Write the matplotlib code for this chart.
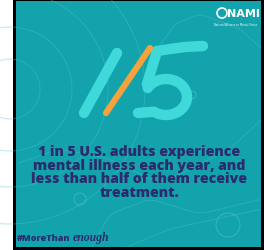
import numpy as np
import matplotlib
matplotlib.use("Agg")
import matplotlib.pyplot as plt
from matplotlib.patches import Rectangle, Circle, Arc

# ---- content ----
numerator = "1"
denominator = "5"
headline = ["1 in 5 U.S. adults experience",
            "mental illness each year, and",
            "less than half of them receive",
            "treatment."]
hashtag_bold = "#MoreThan"
hashtag_script = "enough"
logo_text = "NAMI"
logo_sub = "National Alliance on Mental Illness"

# ---- style ----
TEAL = "#12a3ad"
LINE = "#52c2c8"
CYAN = "#3fd9da"
ORANGE = "#f4a33c"
NAVY = "#2c2b6d"

W, H = 264, 251
fig = plt.figure(figsize=(W / 100, H / 100), dpi=100)
ax = fig.add_axes([0, 0, 1, 1])
ax.set_xlim(0, W)
ax.set_ylim(H, 0)
ax.axis("off")

# frame
ax.add_patch(Rectangle((13, 0), 251, 251, facecolor="black", edgecolor="none"))
ax.add_patch(Rectangle((16, 2), 245, 246, facecolor=TEAL, edgecolor="none"))
clip = Rectangle((16, 2), 245, 246, transform=ax.transData)

# decorative background lines
for r in (30, 62, 98, 135):
    a = Arc((10, 90), 2 * r, 2 * r, theta1=0, theta2=360, color=LINE, lw=0.7, alpha=0.4)
    a.set_clip_path(clip)
    ax.add_patch(a)
t = np.linspace(0, 1, 100)
paths = [
    (np.array([150, 175, 200, 240, 262]), np.array([60, 25, 15, 30, 50])),
    (np.array([16, 60, 110, 160, 230, 262]), np.array([165, 150, 160, 185, 150, 120])),
    (np.array([90, 110, 150, 200, 262]), np.array([251, 215, 200, 215, 200])),
    (np.array([120, 170, 262]), np.array([251, 230, 210])),
]
for xs, ys in paths:
    tt = np.linspace(0, 1, len(xs))
    xx = np.interp(t, tt, xs)
    yy = np.interp(t, tt, ys)
    k = np.ones(9) / 9
    xx = np.convolve(np.pad(xx, 4, mode="edge"), k, mode="valid")
    yy = np.convolve(np.pad(yy, 4, mode="edge"), k, mode="valid")
    ln, = ax.plot(xx, yy, color=LINE, lw=0.7, alpha=0.4)
    ln.set_clip_path(clip)
for (cx, cy, r) in [(80, 200, 6), (228, 226, 12), (192, 96, 4)]:
    c = Circle((cx, cy), r, fill=False, ec=LINE, lw=0.7, alpha=0.6)
    c.set_clip_path(clip)
    ax.add_patch(c)

# big "1/5"
cap = dict(solid_capstyle="round", solid_joinstyle="round")
ax.plot([84, 117], [114, 54], color=CYAN, lw=7.5, **cap)
top_x = [157, 170, 185, 203]
top_y = [52, 50, 48, 47]
ax.plot(top_x, top_y, color=CYAN, lw=7.5, **cap)
ax.plot([157, 147], [52, 85], color=CYAN, lw=7.5, **cap)
th = np.deg2rad(np.linspace(-150, 125, 80))
bx = 166 + 21 * np.cos(th)
by = 98 + 18 * np.sin(th)
bx = np.concatenate([[147], bx, [138]])
by = np.concatenate([[85], by, [114]])
ax.plot(bx, by, color=CYAN, lw=7.5, **cap)
ax.plot([106, 150], [114, 49], color=ORANGE, lw=4.5, **cap)

# headline
ys = [152, 166, 179.5, 193]
for line, y in zip(headline, ys):
    ax.text(139, y, line, ha="center", va="center", color=NAVY,
            fontsize=10.2, fontweight="heavy", family="Open Sans")

# hashtag
ax.text(17, 239, hashtag_bold, ha="left", va="center", color=NAVY,
        fontsize=6.5, fontweight="heavy", family="Open Sans")
ax.text(73, 238, hashtag_script, ha="left", va="center", color=NAVY,
        fontsize=8.5, fontweight="bold", style="italic", family="Liberation Serif")

# logo
ax.add_patch(Circle((222, 14), 5, fill=False, ec="white", lw=1.2))
ax.text(243, 14, logo_text, ha="center", va="center", color="white",
        fontsize=8, fontweight="bold", family="Liberation Sans Narrow")
ax.text(236, 25, logo_sub, ha="center", va="center", color="white", fontsize=1.8)

fig.savefig("out.png", dpi=100, facecolor="white")
